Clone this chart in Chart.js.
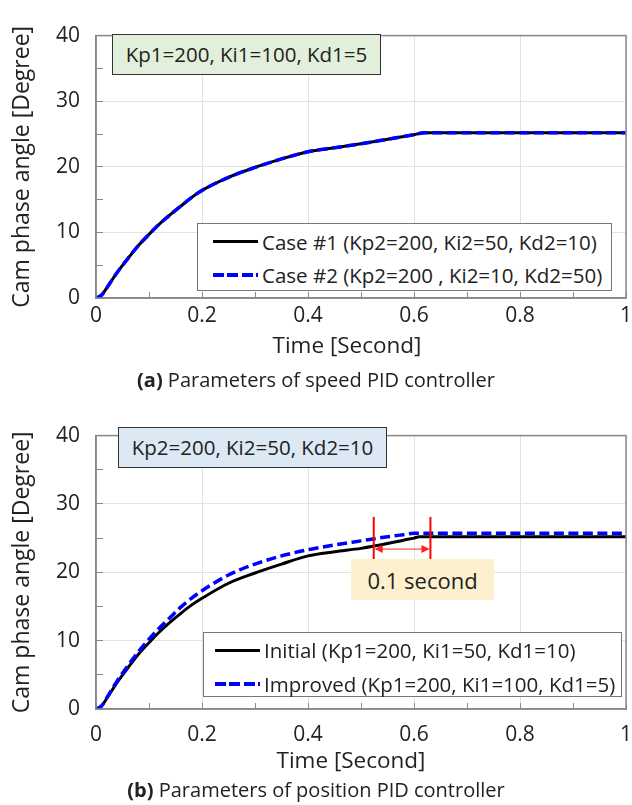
<!DOCTYPE html>
<html>
<head>
<meta charset="utf-8">
<script src="https://cdn.jsdelivr.net/npm/chart.js@4.4.1/dist/chart.umd.min.js"></script>
<style>
  body { margin: 0; background: #fff; font-family: "Open Sans", sans-serif; color: #222; }
  #wrap { position: relative; width: 632px; height: 805px; overflow: hidden; }
  canvas { position: absolute; left: 0; }
  .box { position: absolute; box-sizing: border-box; font-size: 20.5px; line-height: 1; display: flex; align-items: center; justify-content: center; }
  .params { border: 1.5px solid #333; }
  .legend { position: absolute; box-sizing: border-box; background: #fff; border: 1px solid #777; font-size: 20.5px; }
  .legend .row { display: flex; align-items: center; height: 33px; white-space: nowrap; }
  .swatch { display: inline-block; width: 45px; height: 3px; margin-right: 4px; }
  .solid { background: #000; }
  .dashed { height: 4px; background: repeating-linear-gradient(to right, #0000ff 0 11px, transparent 11px 14.5px); }
  .xtitle { position: absolute; left: 0; text-align: center; font-size: 22.5px; line-height: 26px; white-space: nowrap; }
  .caption { position: absolute; left: 0; width: 632px; text-align: center; font-size: 20px; line-height: 24px; }
  .caption b { font-weight: 700; }
</style>
</head>
<body>
<div id="wrap">
  <canvas id="chartA" width="632" height="358" style="top:0"></canvas>
  <canvas id="chartB" width="632" height="373" style="top:400px"></canvas>

  <div class="box params" style="left:112px;top:34px;width:269px;height:41px;background:#e2efda">Kp1=200, Ki1=100, Kd1=5</div>
  <div class="legend" style="left:197px;top:223px;width:415px;height:68px;padding:1px 0 0 15px">
    <div class="row"><span class="swatch solid"></span>Case #1 (Kp2=200, Ki2=50, Kd2=10)</div>
    <div class="row"><span class="swatch dashed"></span>Case #2 (Kp2=200 , Ki2=10, Kd2=50)</div>
  </div>
  <div class="xtitle" style="top:332px;width:694px">Time [Second]</div>
  <div class="caption" style="top:368px"><b>(a)</b> Parameters of speed PID controller</div>

  <div class="box params" style="left:118px;top:427px;width:269px;height:41px;background:#dce8f4">Kp2=200, Ki2=50, Kd2=10</div>
  <div class="box" style="left:351px;top:559px;width:143px;height:41px;background:#fdf0cf;font-size:22px">0.1 second</div>
  <div class="legend" style="left:203px;top:632px;width:419px;height:65px;padding:0 0 0 11px">
    <div class="row" style="height:34px"><span class="swatch solid"></span>Initial (Kp1=200, Ki1=50, Kd1=10)</div>
    <div class="row" style="height:34px"><span class="swatch dashed"></span>Improved (Kp1=200, Ki1=100, Kd1=5)</div>
  </div>
  <div class="xtitle" style="top:747px;width:702px">Time [Second]</div>
  <div class="caption" style="top:778px"><b>(b)</b> Parameters of position PID controller</div>
</div>

<script>
// (a) speed PID: both cases lie on top of each other
const timeA = [0, 0.01, 0.02, 0.04, 0.06, 0.08, 0.1, 0.12, 0.14, 0.16, 0.18, 0.2, 0.25, 0.3, 0.35, 0.4, 0.45, 0.5, 0.55, 0.6, 0.62, 0.7, 0.8, 0.9, 1.0];
const case1 = [0, 0.4, 1.5, 3.9, 6.0, 8.0, 9.7, 11.3, 12.7, 14.0, 15.3, 16.4, 18.4, 19.9, 21.2, 22.3, 22.9, 23.5, 24.2, 24.9, 25.2, 25.2, 25.2, 25.2, 25.2];
const case2 = [0, 0.4, 1.5, 3.9, 6.0, 8.0, 9.7, 11.3, 12.7, 14.0, 15.3, 16.4, 18.4, 19.9, 21.2, 22.3, 22.9, 23.5, 24.2, 24.9, 25.2, 25.2, 25.2, 25.2, 25.2];

// (b) position PID
const timeB = [0, 0.01, 0.02, 0.04, 0.06, 0.08, 0.1, 0.12, 0.14, 0.16, 0.18, 0.2, 0.25, 0.3, 0.35, 0.4, 0.45, 0.5, 0.55, 0.58, 0.6, 0.61, 0.7, 0.8, 0.9, 1.0];
const initial = [0, 0.4, 1.5, 3.9, 6.0, 8.0, 9.7, 11.3, 12.7, 14.0, 15.2, 16.2, 18.4, 19.9, 21.2, 22.4, 23.0, 23.5, 24.2, 24.7, 25.0, 25.2, 25.2, 25.2, 25.2, 25.2];
const improved = [0, 0.4, 1.6, 4.1, 6.3, 8.4, 10.2, 11.9, 13.4, 14.9, 16.2, 17.3, 19.6, 21.2, 22.4, 23.3, 24.0, 24.6, 25.2, 25.5, 25.7, 25.7, 25.7, 25.7, 25.7, 25.7];

// "0.1 second" marker in chart (b)
const gapTimes = [0.524, 0.631];
const gapSpan = [21.1, 28.1];
const gapArrowAt = 23.4;

const yTicks = [0, 10, 20, 30, 40];
const xTicks = [0, 0.2, 0.4, 0.6, 0.8, 1];

const FONT = "Open Sans";

function pts(xs, ys) {
  return xs.map((x, i) => ({ x: x, y: ys[i] }));
}

function isMajorX(v) {
  return xTicks.some(t => Math.abs(t - v) < 1e-6);
}
function isMajorY(v) {
  return yTicks.some(t => Math.abs(t - v) < 1e-6);
}

// grey box round the plot area (top and right sides are missing otherwise)
const frame = {
  id: "frame",
  afterDraw(chart) {
    const a = chart.chartArea, ctx = chart.ctx;
    ctx.save();
    ctx.strokeStyle = "#888";
    ctx.lineWidth = 1.5;
    ctx.strokeRect(a.left, a.top, a.right - a.left, a.bottom - a.top);
    ctx.restore();
  }
};

const gapMarker = {
  id: "gapMarker",
  afterDatasetsDraw(chart) {
    const x = chart.scales.x, y = chart.scales.y, ctx = chart.ctx;
    const x1 = x.getPixelForValue(gapTimes[0]), x2 = x.getPixelForValue(gapTimes[1]);
    const yTop = y.getPixelForValue(gapSpan[1]), yBot = y.getPixelForValue(gapSpan[0]);
    const ya = y.getPixelForValue(gapArrowAt);
    ctx.save();
    ctx.strokeStyle = "#ff0000";
    ctx.lineWidth = 2;
    [x1, x2].forEach(px => {
      ctx.beginPath(); ctx.moveTo(px, yTop); ctx.lineTo(px, yBot); ctx.stroke();
    });
    ctx.strokeStyle = "#ff5050";
    ctx.fillStyle = "#ff2020";
    ctx.lineWidth = 1.2;
    ctx.beginPath(); ctx.moveTo(x1 + 2, ya); ctx.lineTo(x2 - 2, ya); ctx.stroke();
    ctx.beginPath(); ctx.moveTo(x1 + 1, ya); ctx.lineTo(x1 + 9, ya - 4); ctx.lineTo(x1 + 9, ya + 4); ctx.fill();
    ctx.beginPath(); ctx.moveTo(x2 - 1, ya); ctx.lineTo(x2 - 9, ya - 4); ctx.lineTo(x2 - 9, ya + 4); ctx.fill();
    ctx.restore();
  }
};

function makeOptions(xPad, xHeight) {
  return {
    responsive: false,
    animation: false,
    layout: { padding: { top: 20, right: 6, left: 0, bottom: 0 } },
    plugins: { legend: { display: false }, tooltip: { enabled: false } },
    elements: { point: { radius: 0 } },
    scales: {
      x: {
        type: "linear", min: 0, max: 1,
        ticks: {
          stepSize: 0.1, autoSkip: false, maxRotation: 0, padding: xPad,
          color: "#222", font: { family: FONT, size: 21 },
          callback: v => isMajorX(v) ? String(Math.round(v * 10) / 10) : ""
        },
        grid: {
          color: c => isMajorX(c.tick.value) ? "#e2e2e2" : "rgba(0,0,0,0)",
          tickColor: "#888", tickLength: -6, lineWidth: 1
        },
        border: { color: "#888", width: 1.5 },
        afterFit: s => {
          s.height = xHeight;
          // the tick padding would otherwise also push the plot in from the right
          s.paddingLeft = 0;
          s.paddingRight = 0;
        }
      },
      y: {
        min: 0, max: 40,
        ticks: {
          stepSize: 5, autoSkip: false, padding: 23,
          color: "#222", font: { family: FONT, size: 21 },
          callback: v => isMajorY(v) ? String(v) : ""
        },
        grid: {
          color: c => isMajorY(c.tick.value) ? "#e2e2e2" : "rgba(0,0,0,0)",
          tickColor: "#888", tickLength: -7, lineWidth: 1
        },
        border: { color: "#888", width: 1.5 },
        title: { display: true, text: "Cam phase angle [Degree]", color: "#222", font: { family: FONT, size: 23 }, padding: { top: 9, bottom: 0 } },
        afterFit: s => { s.width = 96; }
      }
    }
  };
}

new Chart(document.getElementById("chartA"), {
  type: "line",
  data: {
    datasets: [
      { label: "Case #1 (Kp2=200, Ki2=50, Kd2=10)", data: pts(timeA, case1), borderColor: "#000", borderWidth: 3, cubicInterpolationMode: "monotone", order: 2 },
      { label: "Case #2 (Kp2=200 , Ki2=10, Kd2=50)", data: pts(timeA, case2), borderColor: "#0000ff", borderWidth: 3.5, borderDash: [10, 4.5], cubicInterpolationMode: "monotone", order: 1 }
    ]
  },
  options: makeOptions(11, 60),
  plugins: [frame]
});

const optsB = makeOptions(19, 64);
optsB.layout.padding.top = 23;

new Chart(document.getElementById("chartB"), {
  type: "line",
  data: {
    datasets: [
      { label: "Initial (Kp1=200, Ki1=50, Kd1=10)", data: pts(timeB, initial), borderColor: "#000", borderWidth: 3, cubicInterpolationMode: "monotone", order: 2 },
      { label: "Improved (Kp1=200, Ki1=100, Kd1=5)", data: pts(timeB, improved), borderColor: "#0000ff", borderWidth: 3.5, borderDash: [10, 4.5], cubicInterpolationMode: "monotone", order: 1 }
    ]
  },
  options: optsB,
  plugins: [frame, gapMarker]
});
</script>
</body>
</html>
